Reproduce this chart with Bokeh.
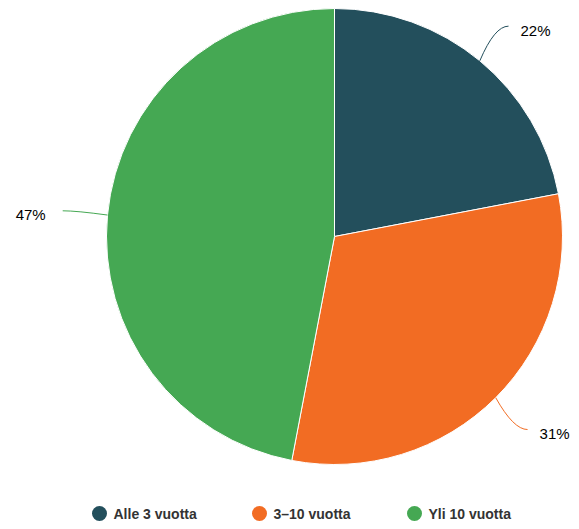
import math
from bokeh.plotting import figure
from bokeh.models import Range1d
from bokeh.core.properties import value
from bokeh.embed import file_html
from bokeh.resources import INLINE

categories = ["Alle 3 vuotta", "3–10 vuotta", "Yli 10 vuotta"]
shares = [22, 31, 47]
labels = ["22%", "31%", "47%"]
colors = ["#234f5c", "#f26c23", "#45a853"]

W, H = 571, 521
CX, CY = 334, 236  # pie centre in figure pixels from left / top
R = 228

p = figure(width=W, height=H, output_backend="svg", toolbar_location=None,
           x_range=Range1d(-CX, W - CX), y_range=Range1d(CY - H, CY),
           min_border=0, outline_line_color=None)
p.axis.visible = False
p.grid.visible = False
p.background_fill_color = "white"

total = float(sum(shares))
cum = 0.0
font = value("Liberation Sans")
for i, s in enumerate(shares):
    a0 = math.pi / 2 - 2 * math.pi * cum / total
    a1 = math.pi / 2 - 2 * math.pi * (cum + s) / total
    p.wedge(x=0, y=0, radius=R, start_angle=a0, end_angle=a1, direction="clock",
            fill_color=colors[i], line_color="white", line_width=1)
    mid = (a0 + a1) / 2
    sx, sy = R * math.cos(mid), R * math.sin(mid)
    ex, ey = 273 * math.cos(mid), 273 * math.sin(mid)
    side = 1 if math.cos(mid) >= 0 else -1
    cx_, cy_ = ex - side * 14, ey
    p.quadratic(x0=[sx], y0=[sy], x1=[ex], y1=[ey], cx=[cx_], cy=[cy_],
                line_color=colors[i], line_width=1)
    p.text(x=[ex + side * (12 if side > 0 else 17)], y=[ey - 4], text=[labels[i]],
           text_font=font, text_font_size="15px", text_color="#000000",
           text_align="left" if side > 0 else "right", text_baseline="middle")
    cum += s

# legend
leg_y = CY - 513
leg_x = [99 - CX, 259 - CX, 414 - CX]
for i, c in enumerate(categories):
    p.scatter(x=[leg_x[i]], y=[leg_y], size=15, marker="circle",
              fill_color=colors[i], line_color=None)
    p.text(x=[leg_x[i] + 14], y=[leg_y], text=[c], text_font=font,
           text_font_size="14px", text_font_style="bold", text_color="#333333",
           text_align="left", text_baseline="middle")

open("out.html", "w").write(file_html(p, INLINE))
